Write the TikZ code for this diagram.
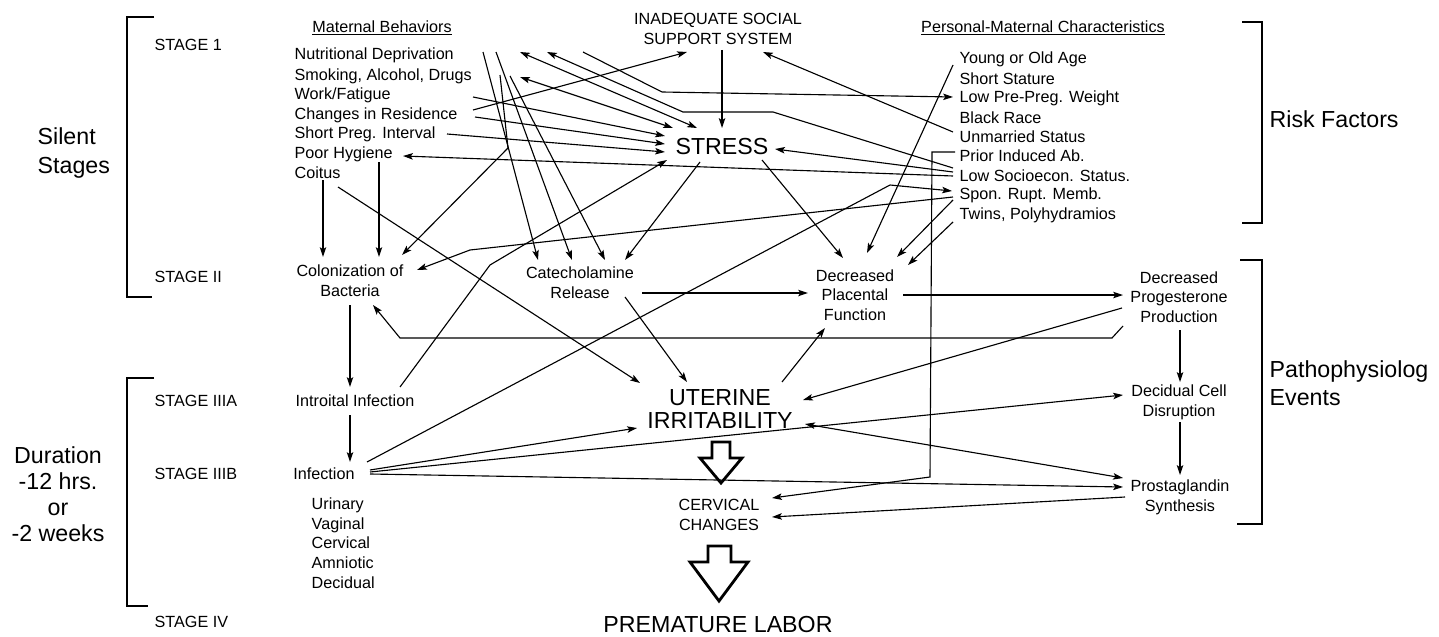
\documentclass[tikz,border=0pt]{standalone}
\usepackage{fontspec}
\setmainfont{Liberation Sans}
\usetikzlibrary{arrows.meta,calc}
\tikzset{
    chartitem/.style={font=\fontsize{11.5}{14}\selectfont, inner sep=1pt, anchor=west, align=left},
    chartnode/.style={font=\fontsize{11.5}{14}\selectfont, inner sep=1pt, align=center},
    chartbig/.style={font=\fontsize{16.5}{20}\selectfont, inner sep=1pt, align=center},
    chartarrow/.style={-{Stealth[length=7pt,width=4.6pt,inset=1.5pt]}, line width=0.8pt},
    chartboth/.style={{Stealth[length=7pt,width=4.6pt,inset=1.5pt]}-{Stealth[length=7pt,width=4.6pt,inset=1.5pt]}, line width=0.8pt},
    chartbracket/.style={line width=1.8pt},
    chartblock/.style={line width=2pt, line join=miter}
}

\begin{document}
\begin{tikzpicture}[x=0.025cm, y=-0.025cm]
    \useasboundingbox (0,0) rectangle (1439,637);
    % side labels and brackets
    \node[chartbig, anchor=west, align=left, font=\fontsize{16.5}{21}\selectfont] (silent) at (36,153) {Silent\\Stages};
    \node[chartbig, font=\fontsize{16.5}{18.5}\selectfont] (duration) at (58,494) {Duration\\-12 hrs.\\or\\-2 weeks};
    \node[chartitem] (stagei) at (153,45) {STAGE 1};
    \node[chartitem] (stageii) at (153,277) {STAGE II};
    \node[chartitem] (stageiiia) at (153,401) {STAGE IIIA};
    \node[chartitem] (stageiiib) at (153,474) {STAGE IIIB};
    \node[chartitem] (stageiv) at (153,622) {STAGE IV};
    \node[chartbig, anchor=west] (risk) at (1268,119) {Risk Factors};
    \node[chartbig, anchor=west, align=left] (patho) at (1268,383) {Pathophysiolog\\Events};
    \draw[chartbracket] (154,17) -- (127,17) -- (127,297) -- (152,297);
    \draw[chartbracket] (154,378) -- (127,378) -- (127,606) -- (148,606);
    \draw[chartbracket] (1242,22) -- (1262,22) -- (1262,223) -- (1242,223);
    \draw[chartbracket] (1240,260) -- (1262,260) -- (1262,524) -- (1237,524);

    % stage 1 lists
    \node[chartnode] (hdrmat) at (382,28) {\underline{Maternal Behaviors}};
    \node[chartnode] (hdrpers) at (1043,28) {\underline{Personal-Maternal Characteristics}};
    \node[chartnode] (social) at (718,29) {INADEQUATE SOCIAL\\SUPPORT SYSTEM};
    \node[chartitem] (nutr) at (293,55) {Nutritional Deprivation};
    \node[chartitem] (smok) at (293,76) {Smoking, Alcohol, Drugs};
    \node[chartitem] (work) at (293,95) {Work/Fatigue};
    \node[chartitem] (resid) at (293,115) {Changes in Residence};
    \node[chartitem] (preg) at (293,134) {Short Preg. Interval};
    \node[chartitem] (hyg) at (293,154) {Poor Hygiene};
    \node[chartitem] (coit) at (293,173) {Coitus};
    \node[chartitem] (age) at (958,59) {Young or Old Age};
    \node[chartitem] (stat) at (958,79) {Short Stature};
    \node[chartitem] (wgt) at (958,98) {Low Pre-Preg. Weight};
    \node[chartitem] (race) at (958,118) {Black Race};
    \node[chartitem] (unmar) at (958,137) {Unmarried Status};
    \node[chartitem] (abort) at (958,156) {Prior Induced Ab.};
    \node[chartitem] (socio) at (958,176) {Low Socioecon. Status.};
    \node[chartitem] (rupt) at (958,195) {Spon. Rupt. Memb.};
    \node[chartitem] (twins) at (958,215) {Twins, Polyhydramios};

    % events
    \node[chartbig] (stress) at (722,147) {STRESS};
    \node[chartnode] (colon) at (350,281) {Colonization of\\Bacteria};
    \node[chartnode] (catech) at (580,283) {Catecholamine\\Release};
    \node[chartnode] (placent) at (855,295) {Decreased\\Placental\\Function};
    \node[chartnode] (progest) at (1179,297) {Decreased\\Progesterone\\Production};
    \node[chartbig, font=\fontsize{16.5}{16}\selectfont] (uterine) at (720,409) {UTERINE\\IRRITABILITY};
    \node[chartnode] (decid) at (1179,402) {Decidual Cell\\Disruption};
    \node[chartnode] (prosta) at (1180,497) {Prostaglandin\\Synthesis};
    \node[chartnode] (introit) at (355,401) {Introital Infection};
    \node[chartnode] (infect) at (324,474) {Infection};
    \node[chartitem] (sites) at (310,543) {Urinary\\Vaginal\\Cervical\\Amniotic\\Decidual};
    \node[chartnode] (cervic) at (719,515) {CERVICAL\\CHANGES};
    \node[chartbig] (labor) at (718,625) {PREMATURE LABOR};

    % big hollow arrows
    \draw[chartblock] (712,442) -- (730,442) -- (730,458) -- (742,458) -- (721,483) -- (700,458) -- (712,458) -- cycle;
    \draw[chartblock] (708,546) -- (731,546) -- (731,562) -- (748,562) -- (719,601) -- (690,562) -- (708,562) -- cycle;

    % maternal behaviors
    \draw[chartarrow] ($(nutr.west)+(190,-3)$) -- ($(catech)+(-42,-23)$);
    \draw[chartarrow] ($(nutr.west)+(203,-3)$) -- ($(catech)+(-8,-23)$);
    \draw[chartarrow] ($(smok.west)+(217,0)$) -- ($(catech)+(25,-23)$);
    \draw[chartarrow] ($(smok.west)+(207,-1)$) -- ($(smok.west)+(215,72)$) -- ($(colon)+(52,-26)$);
    \draw[chartboth] ($(nutr.west)+(227,-3)$) -- ($(stress)+(-25,-19)$);
    \draw[chartboth] ($(smok.west)+(227,1)$) -- ($(stress)+(-49,-19)$);
    \draw[chartarrow] ($(nutr.west)+(290,-3)$) -- ($(nutr.west)+(369,37)$) -- ($(wgt.west)+(-5,-1)$);
    \draw[chartarrow] ($(resid.west)+(180,-5)$) -- ($(social)+(-31,23)$);
    \draw[chartarrow] ($(work.west)+(180,2)$) -- ($(stress)+(-57,-11)$);
    \draw[chartarrow] ($(resid.west)+(182,2)$) -- ($(stress)+(-57,-3)$);
    \draw[chartarrow] ($(preg.west)+(154,0)$) -- ($(stress)+(-57,5)$);
    \draw[chartarrow] ($(coit.west)+(30,7)$) -- ($(colon)+(-27,-24)$);
    \draw[chartarrow] ($(hyg.west)+(86,8)$) -- ($(colon)+(29,-24)$);
    \draw[chartarrow] ($(coit.west)+(45,14)$) -- ($(uterine)+(-80,-26)$);

    % personal characteristics
    \draw[chartarrow] ($(social)+(4,21)$) -- ($(stress)+(0,-19)$);
    \draw[chartarrow] ($(unmar.west)+(-5,-5)$) -- ($(social)+(45,23)$);
    \draw[chartarrow] ($(socio.west)+(-5,-8)$) -- ($(socio.west)+(-185,-64)$) -- ($(socio.west)+(-275,-64)$) -- ($(nutr.west)+(254,-3)$);
    \draw[chartarrow] ($(socio.west)+(-5,-4)$) -- ($(stress)+(53,2)$);
    \draw[chartarrow] ($(socio.west)+(-5,0)$) -- ($(hyg.west)+(110,2)$);
    \draw[chartarrow] ($(rupt.west)+(-5,2)$) -- ($(rupt.west)+(-488,55)$) -- ($(colon)+(67,-11)$);
    \draw[chartarrow] ($(age.west)+(-5,6)$) -- ($(placent)+(12,-42)$);
    \draw[chartarrow] ($(rupt.west)+(-5,5)$) -- ($(placent)+(42,-38)$);
    \draw[chartarrow] ($(twins.west)+(-5,7)$) -- ($(placent)+(53,-30)$);
    \draw[chartarrow] ($(abort.west)+(-3,-4)$) -- ($(abort.west)+(-26,-4)$) -- ($(abort.west)+(-28,321)$) -- ($(cervic)+(53,-17)$);

    % events
    \draw[chartarrow] ($(stress)+(-22,15)$) -- ($(catech)+(45,-23)$);
    \draw[chartarrow] ($(stress)+(40,13)$) -- ($(placent)+(-12,-37)$);
    \draw[chartarrow] ($(catech)+(62,10)$) -- ($(placent)+(-47,-2)$);
    \draw[chartarrow] ($(catech)+(45,14)$) -- ($(uterine)+(-33,-27)$);
    \draw[chartarrow] ($(uterine)+(62,-27)$) -- ($(placent)+(-30,33)$);
    \draw[chartarrow] ($(placent)+(48,0)$) -- ($(progest)+(-56,-2)$);
    \draw[chartarrow] ($(progest)+(-56,29)$) -- ($(progest)+(-67,41)$) -- ($(colon)+(50,57)$) -- ($(colon)+(23,24)$);
    \draw[chartarrow] ($(progest)+(-57,11)$) -- ($(uterine)+(83,-9)$);
    \draw[chartarrow] ($(progest)+(1,33)$) -- ($(decid)+(1,-20)$);
    \draw[chartarrow] ($(decid)+(1,20)$) -- ($(prosta)+(0,-22)$);
    \draw[chartarrow] ($(colon)+(0,24)$) -- ($(introit)+(-5,-14)$);
    \draw[chartarrow] ($(introit)+(-5,14)$) -- ($(infect)+(26,-12)$);
    \draw[chartarrow] ($(introit)+(45,-14)$) -- ($(introit)+(135,-136)$) -- ($(stress)+(-55,13)$);
    \draw[chartarrow] ($(infect)+(43,-12)$) -- ($(rupt.west)+(-68,-10)$) -- ($(rupt.west)+(-6,-4)$);
    \draw[chartarrow] ($(infect)+(46,-4)$) -- ($(uterine)+(-83,19)$);
    \draw[chartarrow] ($(infect)+(46,-2)$) -- ($(decid)+(-56,-7)$);
    \draw[chartarrow] ($(infect)+(46,0)$) -- ($(prosta)+(-57,-10)$);
    \draw[chartboth] ($(uterine)+(85,15)$) -- ($(prosta)+(-57,-19)$);
    \draw[chartarrow] ($(prosta)+(-55,0)$) -- ($(cervic)+(53,2)$);
\end{tikzpicture}
\end{document}
